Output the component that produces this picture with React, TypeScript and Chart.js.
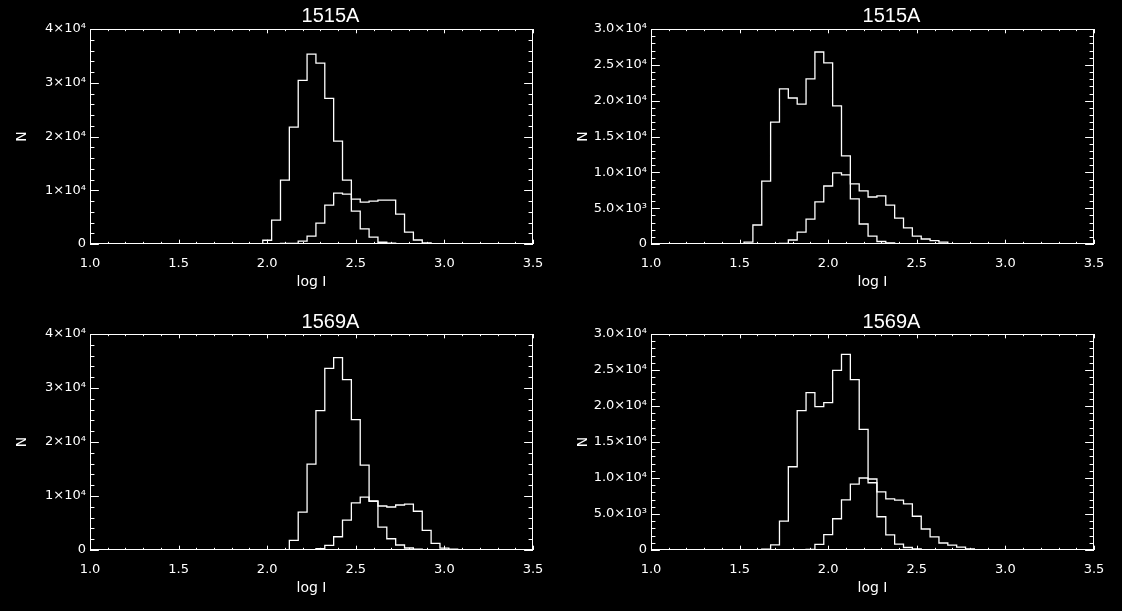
import React, { useEffect, useRef } from 'react';
import { Chart, registerables } from 'chart.js';

Chart.register(...registerables);

// ---- tick labels ----
const xTickValues = [1.0, 1.5, 2.0, 2.5, 3.0, 3.5];
const xTickLabels = ['1.0', '1.5', '2.0', '2.5', '3.0', '3.5'];
const yTickValuesA = [0, 10000, 20000, 30000, 40000];
const yTickLabelsA = ['0', '1×10⁴', '2×10⁴', '3×10⁴', '4×10⁴'];
const yTickValuesB = [0, 5000, 10000, 15000, 20000, 25000, 30000];
const yTickLabelsB = ['0', '5.0×10³', '1.0×10⁴', '1.5×10⁴', '2.0×10⁴', '2.5×10⁴', '3.0×10⁴'];

const titles = ['1515A', '1515A', '1569A', '1569A'];
const xAxisTitle = 'log I';
const yAxisTitle = 'N';

// ---- panel 1 (top left) ----
const p1Centers = [1.95, 2.0, 2.05, 2.1, 2.15, 2.2, 2.25, 2.3, 2.35, 2.4, 2.45, 2.5, 2.55, 2.6, 2.65, 2.7, 2.75, 2.8, 2.85, 2.9, 2.95];
const p1Main = [0, 700, 4450, 11900, 21750, 30450, 35330, 33650, 27100, 19130, 11880, 6130, 2800, 1280, 330, 180, 0, 0, 0, 0, 0];
const p1Second = [0, 0, 0, 120, 120, 540, 1480, 3900, 7230, 9480, 9280, 8350, 7800, 7990, 8160, 8180, 5560, 2220, 740, 200, 0];

// ---- panel 2 (top right) ----
const p2Centers = [1.5, 1.55, 1.6, 1.65, 1.7, 1.75, 1.8, 1.85, 1.9, 1.95, 2.0, 2.05, 2.1, 2.15, 2.2, 2.25, 2.3, 2.35, 2.4, 2.45, 2.5, 2.55, 2.6, 2.65, 2.7];
const p2Main = [0, 250, 2650, 8770, 17000, 21650, 20370, 19530, 23050, 26790, 25280, 19280, 12300, 6300, 2790, 1100, 350, 140, 0, 0, 0, 0, 0, 0, 0];
const p2Second = [0, 0, 0, 0, 0, 90, 560, 1670, 3470, 5880, 8090, 9930, 9650, 8400, 7420, 6560, 6720, 5420, 3600, 2260, 1100, 700, 470, 250, 0];

// ---- panel 3 (bottom left) ----
const p3Centers = [2.05, 2.1, 2.15, 2.2, 2.25, 2.3, 2.35, 2.4, 2.45, 2.5, 2.55, 2.6, 2.65, 2.7, 2.75, 2.8, 2.85, 2.9, 2.95, 3.0, 3.05, 3.1];
const p3Main = [0, 80, 1800, 7000, 15920, 25810, 33620, 35630, 31540, 24130, 15700, 9080, 4250, 2080, 930, 370, 150, 0, 0, 0, 0, 0];
const p3Second = [0, 60, 60, 60, 80, 250, 840, 2450, 5520, 8710, 9790, 9020, 8150, 7960, 8330, 8490, 7180, 3650, 1240, 340, 150, 0];

// ---- panel 4 (bottom right) ----
const p4Centers = [1.6, 1.65, 1.7, 1.75, 1.8, 1.85, 1.9, 1.95, 2.0, 2.05, 2.1, 2.15, 2.2, 2.25, 2.3, 2.35, 2.4, 2.45, 2.5, 2.55, 2.6, 2.65, 2.7, 2.75, 2.8, 2.85];
const p4Main = [0, 120, 700, 4020, 11560, 19360, 21870, 19900, 20480, 24940, 27160, 23660, 16740, 9340, 4620, 2090, 810, 350, 140, 0, 0, 0, 0, 0, 0, 0];
const p4Second = [0, 0, 0, 0, 0, 0, 90, 790, 2130, 4340, 6960, 9150, 10000, 9860, 8080, 7090, 6920, 6410, 4690, 2920, 1830, 970, 670, 390, 160, 0];

type PanelProps = {
  left: number;
  top: number;
  padTop: number;
  title: string;
  centers: number[];
  main: number[];
  second: number[];
  yTicks: number[];
  yLabels: string[];
  yMinor: number;
};

const W = 561;
const H = 305;

function Panel(p: PanelProps) {
  const ref = useRef<HTMLCanvasElement | null>(null);
  useEffect(() => {
    if (!ref.current) return;
    const yMax = p.yTicks[p.yTicks.length - 1];
    const yMajor = p.yTicks[1] - p.yTicks[0];
    const frame = {
      id: 'idlFrame',
      afterDatasetsDraw(chart: any) {
        const { ctx, chartArea: a, scales } = chart;
        const xs = scales.x;
        const ys = scales.y;
        ctx.save();
        ctx.strokeStyle = '#ffffff';
        ctx.lineWidth = 1;
        ctx.strokeRect(a.left + 0.5, a.top + 0.5, a.right - a.left - 1, a.bottom - a.top - 1);
        const xLen = 0.02 * (a.bottom - a.top);
        const yLen = 0.02 * (a.right - a.left);
        ctx.beginPath();
        for (let k = 0; k <= 25; k++) {
          const v = 1.0 + k * 0.1;
          const px = Math.round(xs.getPixelForValue(v)) + 0.5;
          const len = k % 5 === 0 ? xLen : xLen / 2;
          ctx.moveTo(px, a.bottom);
          ctx.lineTo(px, a.bottom - len);
          ctx.moveTo(px, a.top);
          ctx.lineTo(px, a.top + len);
        }
        const n = Math.round(yMax / p.yMinor);
        const per = Math.round(yMajor / p.yMinor);
        for (let k = 0; k <= n; k++) {
          const v = k * p.yMinor;
          const py = Math.round(ys.getPixelForValue(v)) + 0.5;
          const len = k % per === 0 ? yLen : yLen / 2;
          ctx.moveTo(a.left, py);
          ctx.lineTo(a.left + len, py);
          ctx.moveTo(a.right, py);
          ctx.lineTo(a.right - len, py);
        }
        ctx.stroke();
        ctx.fillStyle = '#ffffff';
        ctx.font = '20px "Liberation Sans"';
        ctx.textAlign = 'center';
        ctx.textBaseline = 'alphabetic';
        ctx.fillText(p.title, (a.left + a.right) / 2 + 19, 22);
        ctx.restore();
      },
    };
    const mk = (vals: number[]) => ({
      data: p.centers.map((c, i) => ({ x: c, y: vals[i] })),
      stepped: 'middle' as const,
      borderColor: '#ffffff',
      borderWidth: 1.3,
      pointRadius: 0,
      fill: false,
      tension: 0,
    });
    const chart = new Chart(ref.current, {
      type: 'line',
      data: { datasets: [mk(p.main), mk(p.second)] },
      options: {
        animation: false,
        responsive: false,
        maintainAspectRatio: false,
        layout: { padding: { top: p.padTop, right: 28, left: 0, bottom: 0 } },
        plugins: { legend: { display: false }, tooltip: { enabled: false }, title: { display: false } },
        scales: {
          x: {
            type: 'linear',
            min: 1.0,
            max: 3.5,
            afterBuildTicks: (s: any) => {
              s.ticks = xTickValues.map((v) => ({ value: v }));
            },
            afterFit: (s: any) => {
              s.height = 61;
            },
            ticks: {
              callback: (_v: any, i: number) => xTickLabels[i],
              color: '#ffffff',
              font: { family: 'DejaVu Sans', size: 13 },
              padding: 12,
              maxRotation: 0,
              autoSkip: false,
            },
            grid: { display: false, drawTicks: false },
            border: { display: false },
            title: {
              display: true,
              text: xAxisTitle,
              color: '#ffffff',
              font: { family: 'DejaVu Sans', size: 14 },
              padding: { top: 0, bottom: 14 },
            },
          },
          y: {
            type: 'linear',
            min: 0,
            max: yMax,
            afterBuildTicks: (s: any) => {
              s.ticks = p.yTicks.map((v) => ({ value: v }));
            },
            afterFit: (s: any) => {
              s.width = 90;
            },
            ticks: {
              callback: (_v: any, i: number) => p.yLabels[i],
              color: '#ffffff',
              font: { family: 'DejaVu Sans', size: 13 },
              padding: 4,
              autoSkip: false,
            },
            grid: { display: false, drawTicks: false },
            border: { display: false },
            title: {
              display: true,
              text: yAxisTitle,
              color: '#ffffff',
              font: { family: 'DejaVu Sans', size: 14 },
              padding: { top: 14, bottom: 0 },
            },
          },
        },
      },
      plugins: [frame],
    } as any);
    return () => chart.destroy();
  }, []);
  return (
    <canvas
      ref={ref}
      width={W}
      height={H}
      style={{ position: 'absolute', left: p.left, top: p.top, width: W, height: H }}
    />
  );
}

export default function App() {
  useEffect(() => {
    document.body.style.margin = '0';
    document.body.style.background = '#000';
  }, []);
  return (
    <div style={{ position: 'absolute', left: 0, top: 0, width: 1122, height: 611, background: '#000', overflow: 'hidden' }}>
      <Panel left={0} top={0} padTop={29} title={titles[0]} centers={p1Centers} main={p1Main} second={p1Second} yTicks={yTickValuesA} yLabels={yTickLabelsA} yMinor={2000} />
      <Panel left={561} top={0} padTop={29} title={titles[1]} centers={p2Centers} main={p2Main} second={p2Second} yTicks={yTickValuesB} yLabels={yTickLabelsB} yMinor={1000} />
      <Panel left={0} top={306} padTop={28} title={titles[2]} centers={p3Centers} main={p3Main} second={p3Second} yTicks={yTickValuesA} yLabels={yTickLabelsA} yMinor={2000} />
      <Panel left={561} top={306} padTop={28} title={titles[3]} centers={p4Centers} main={p4Main} second={p4Second} yTicks={yTickValuesB} yLabels={yTickLabelsB} yMinor={1000} />
    </div>
  );
}
